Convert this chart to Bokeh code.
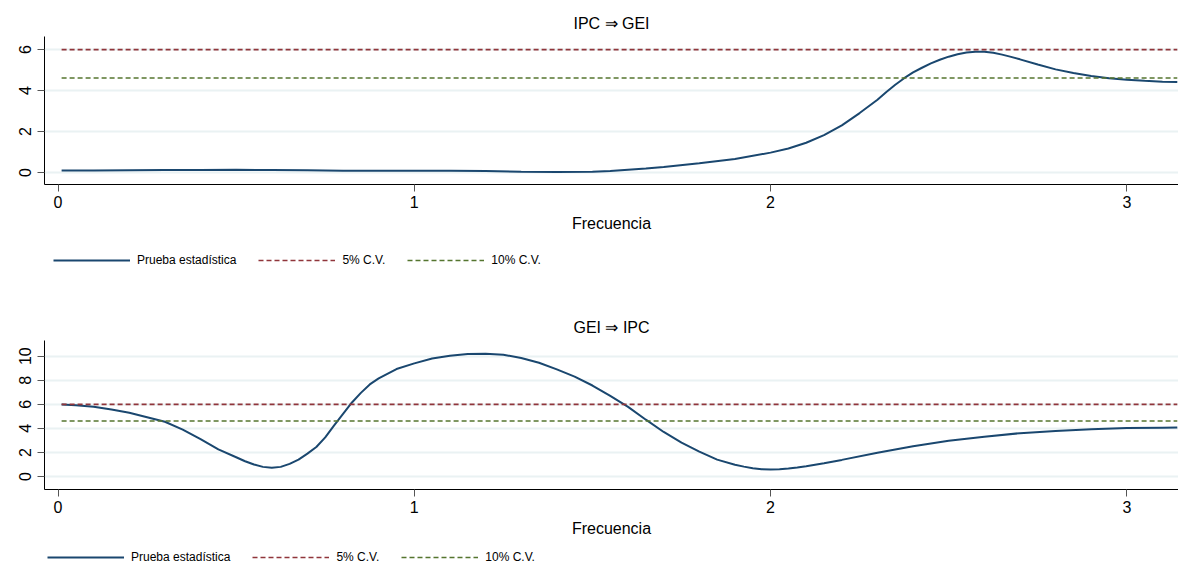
from bokeh.plotting import figure
from bokeh.models import Range1d, Legend, LegendItem, FixedTicker
from bokeh.layouts import column
from bokeh.embed import file_html
from bokeh.resources import INLINE

# ---- data ----
freq_top = [0.01, 0.1, 0.2, 0.3, 0.4, 0.5, 0.6, 0.7, 0.8, 0.9, 1.0, 1.1, 1.2, 1.3,
            1.4, 1.5, 1.55, 1.6, 1.65, 1.7, 1.8, 1.9, 2.0, 2.05, 2.1, 2.15, 2.2, 2.25,
            2.3, 2.325, 2.35, 2.375, 2.4, 2.425, 2.45, 2.475, 2.5, 2.525, 2.55, 2.575,
            2.6, 2.625, 2.65, 2.675, 2.7, 2.75, 2.8, 2.85, 2.9, 2.95, 3.0, 3.05, 3.1,
            3.1416]
stat_top = [0.10, 0.10, 0.11, 0.12, 0.125, 0.13, 0.125, 0.11, 0.09, 0.08, 0.08, 0.08,
            0.07, 0.04, 0.02, 0.035, 0.07, 0.13, 0.19, 0.27, 0.45, 0.66, 0.97, 1.17,
            1.45, 1.82, 2.3, 2.9, 3.55, 3.93, 4.28, 4.6, 4.88, 5.11, 5.32, 5.5, 5.65,
            5.77, 5.85, 5.89, 5.89, 5.84, 5.75, 5.64, 5.52, 5.27, 5.03, 4.85, 4.71,
            4.60, 4.52, 4.47, 4.43, 4.41]

freq_bot = [0.01, 0.05, 0.1, 0.15, 0.2, 0.25, 0.3, 0.35, 0.4, 0.45, 0.5, 0.525, 0.55,
            0.575, 0.6, 0.625, 0.65, 0.675, 0.7, 0.725, 0.75, 0.775, 0.8, 0.825, 0.85,
            0.875, 0.9, 0.95, 1.0, 1.05, 1.1, 1.15, 1.2, 1.25, 1.3, 1.35, 1.4, 1.45,
            1.5, 1.55, 1.6, 1.65, 1.7, 1.75, 1.8, 1.85, 1.9, 1.925, 1.95, 1.975, 2.0,
            2.025, 2.05, 2.075, 2.1, 2.15, 2.2, 2.3, 2.4, 2.5, 2.6, 2.7, 2.8, 2.9,
            3.0, 3.1, 3.1416]
stat_bot = [5.98, 5.93, 5.8, 5.56, 5.3, 4.93, 4.55, 3.9, 3.1, 2.25, 1.6, 1.27, 1.0,
            0.8, 0.72, 0.8, 1.05, 1.4, 1.9, 2.45, 3.25, 4.25, 5.2, 6.15, 6.95,
            7.65, 8.15, 8.93, 9.4, 9.8, 10.03, 10.18, 10.2, 10.12, 9.85, 9.45, 8.9, 8.3,
            7.56, 6.7, 5.78, 4.72, 3.7, 2.82, 2.07, 1.4, 0.98, 0.82, 0.68, 0.6, 0.58,
            0.6, 0.66, 0.74, 0.85, 1.1, 1.38, 1.98, 2.52, 2.97, 3.3, 3.6, 3.78, 3.93,
            4.02, 4.06, 4.07]

cv5 = 5.99
cv10 = 4.61
x_ticks = [0, 1, 2, 3]
top_yticks = [0, 2, 4, 6]
bot_yticks = [0, 2, 4, 6, 8, 10]
titles = ["IPC \u21d2 GEI", "GEI \u21d2 IPC"]
x_label = "Frecuencia"
legend_labels = ["Prueba estadística", "5% C.V.", "10% C.V."]

FONT = "Liberation Sans"
NAVY = "#1a476f"
RED = "#90353b"
GREEN = "#55752f"
GRID = "#eaf2f3"
DASH = "5 3"


def make_panel(freq, stat, title, yticks, yr, frame_h, top, bottom):
    p = figure(frame_width=1134, frame_height=frame_h, output_backend="svg",
               toolbar_location=None,
               x_range=Range1d(-0.038, 3.145), y_range=Range1d(*yr),
               min_border_left=44, min_border_right=0,
               min_border_top=top, min_border_bottom=bottom)
    p.title.text = title
    p.title.align = "center"
    p.title.text_font = FONT
    p.title.text_font_size = "16px"
    p.title.text_font_style = "normal"
    p.title.text_color = "black"
    p.outline_line_color = None
    p.background_fill_color = "white"
    p.border_fill_color = "white"

    p.line(freq, stat, color=NAVY, line_width=2)
    p.line([freq[0], freq[-1]], [cv5, cv5], color=RED, line_width=1.7, line_dash=DASH)
    p.line([freq[0], freq[-1]], [cv10, cv10], color=GREEN, line_width=1.7, line_dash=DASH)

    p.xgrid.visible = False
    p.ygrid.grid_line_color = GRID
    p.ygrid.grid_line_width = 2
    p.ygrid.ticker = FixedTicker(ticks=yticks)

    xa = p.xaxis[0]
    xa.ticker = FixedTicker(ticks=x_ticks)
    xa.axis_label = x_label
    xa.axis_label_text_font = FONT
    xa.axis_label_text_font_size = "16px"
    xa.axis_label_text_font_style = "normal"
    xa.axis_label_text_color = "black"
    xa.axis_label_standoff = 4
    xa.major_label_text_font = FONT
    xa.major_label_text_font_size = "16px"
    xa.major_label_text_color = "black"
    xa.major_label_standoff = 4
    xa.major_tick_out = 7
    xa.major_tick_in = 0
    xa.minor_tick_out = 0
    xa.minor_tick_in = 0
    xa.major_tick_line_color = "#555555"
    xa.axis_line_color = "black"

    ya = p.yaxis[0]
    ya.ticker = FixedTicker(ticks=yticks)
    ya.major_label_orientation = "vertical"
    ya.major_label_text_font = FONT
    ya.major_label_text_font_size = "16px"
    ya.major_label_text_color = "black"
    ya.major_label_standoff = 6
    ya.major_tick_out = 7
    ya.major_tick_in = 0
    ya.minor_tick_out = 0
    ya.minor_tick_in = 0
    ya.major_tick_line_color = "#555555"
    ya.axis_line_color = "black"
    return p


def make_legend_strip(freq, stat, height, loc):
    # the strip's y range lies far above the data, so its lines stay hidden and
    # only the legend entries show
    q = figure(width=1178, height=height, output_backend="svg", toolbar_location=None,
               x_axis_type=None, y_axis_type=None,
               x_range=Range1d(-0.038, 3.145), y_range=Range1d(1000, 1001),
               min_border_left=0, min_border_right=0, min_border_top=0, min_border_bottom=0)
    q.outline_line_color = None
    q.xgrid.visible = False
    q.ygrid.visible = False
    r1 = q.line(freq, stat, color=NAVY, line_width=2)
    r2 = q.line([freq[0], freq[-1]], [cv5, cv5], color=RED, line_width=1.7, line_dash=DASH)
    r3 = q.line([freq[0], freq[-1]], [cv10, cv10], color=GREEN, line_width=1.7, line_dash=DASH)
    legend = Legend(items=[LegendItem(label=legend_labels[0], renderers=[r1]),
                           LegendItem(label=legend_labels[1], renderers=[r2]),
                           LegendItem(label=legend_labels[2], renderers=[r3])],
                    orientation="horizontal", location=loc,
                    glyph_width=77, glyph_height=14, label_standoff=7, spacing=22,
                    label_height=14,
                    label_text_font=FONT, label_text_font_size="12px",
                    label_text_color="black",
                    border_line_alpha=0, background_fill_alpha=0,
                    padding=0, margin=0)
    q.add_layout(legend, "center")
    return q


p1 = make_panel(freq_top, stat_top, titles[0], top_yticks, (-0.585, 6.634), 148, 36, 56)
l1 = make_legend_strip(freq_top, stat_top, 50, (9, 23))
p2 = make_panel(freq_bot, stat_bot, titles[1], bot_yticks, (-1.08, 11.3), 149, 50, 50)
l2 = make_legend_strip(freq_bot, stat_bot, 25, (3, 0))

layout = column(p1, l1, p2, l2, spacing=0)
open("out.html", "w").write(file_html(layout, INLINE))
